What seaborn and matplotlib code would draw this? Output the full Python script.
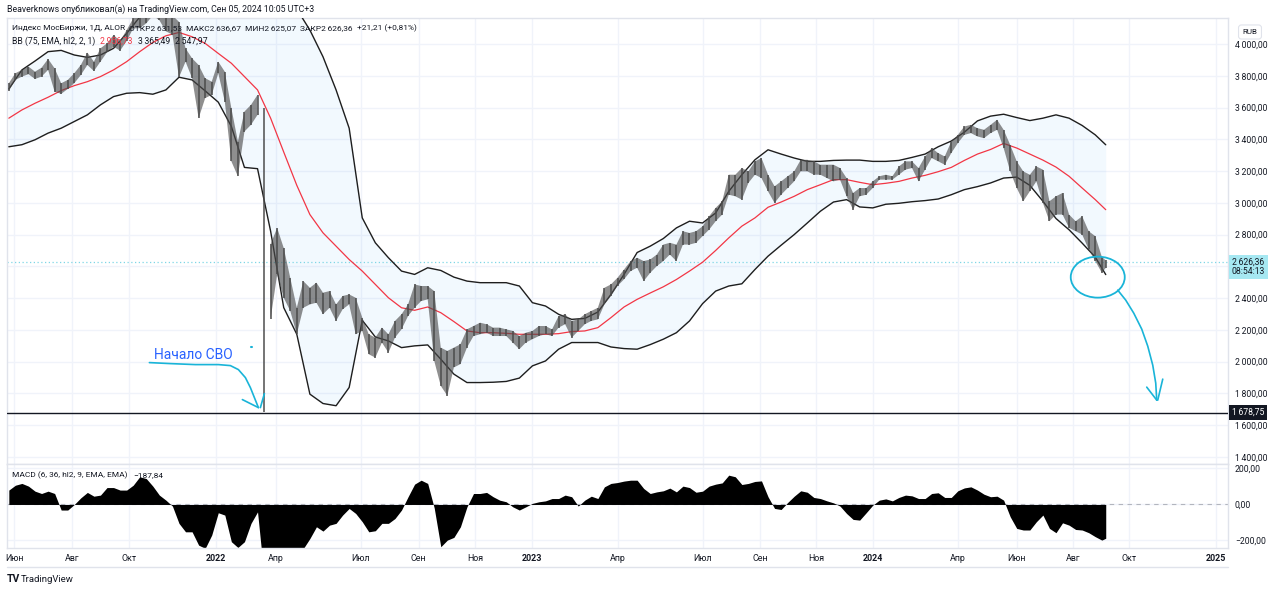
import numpy as np
import pandas as pd
import matplotlib
matplotlib.use("Agg")
import matplotlib.pyplot as plt
import seaborn as sns
from matplotlib.transforms import IdentityTransform, blended_transform_factory
from matplotlib.lines import Line2D
from matplotlib.patches import Ellipse

sns.set_theme(style="white")
plt.rcParams["font.family"] = ["Roboto", "DejaVu Sans"]

# ---------------- trading calendar (exchange closed 28.02 - 23.03.2022) ----------------
cal = pd.bdate_range("2021-05-26", "2025-02-28")
cal = cal[(cal < "2022-02-28") | (cal > "2022-03-23")]
last_date = pd.Timestamp("2024-09-05")

# weekly samples (every 5 sessions) + last session
price_dates = list(cal[0:836:5]) + [last_date]
price_high = [3753, 3816, 3837, 3858, 3826, 3851, 3906, 3847, 3753, 3774,
              3816, 3868, 3946, 3889, 3973, 4004, 4057, 4019, 4088, 4161,
              4180, 4240, 4280, 4270, 4200, 4180, 4140, 3973, 3910, 3868,
              3785, 3763, 3889, 3826, 3596, 3386, 3575, 3617, 3680, 3600,
              2740, 2842, 2716, 2528, 2339, 2507, 2465, 2497, 2434, 2444,
              2360, 2413, 2423, 2402, 2277, 2172, 2151, 2214, 2172, 2256,
              2298, 2360, 2486, 2476, 2476, 2444, 2088, 2067, 2088, 2109,
              2203, 2224, 2245, 2235, 2214, 2214, 2203, 2193, 2161, 2182,
              2193, 2224, 2224, 2203, 2287, 2298, 2256, 2266, 2298, 2319,
              2339, 2465, 2486, 2528, 2580, 2633, 2654, 2633, 2643, 2674,
              2737, 2748, 2737, 2821, 2810, 2821, 2852, 2915, 2968, 3010,
              3177, 3177, 3219, 3198, 3261, 3282, 3177, 3104, 3135, 3167,
              3198, 3271, 3271, 3261, 3240, 3240, 3240, 3219, 3156, 3062,
              3093, 3093, 3135, 3167, 3177, 3167, 3229, 3261, 3261, 3219,
              3292, 3345, 3313, 3292, 3386, 3428, 3481, 3491, 3470, 3460,
              3491, 3523, 3460, 3365, 3261, 3198, 3177, 3229, 3209, 3010,
              3041, 3062, 2926, 2884, 2915, 2821, 2790, 2660, 2637]
price_low = [3705, 3774, 3795, 3810, 3780, 3795, 3837, 3700, 3686, 3717,
             3753, 3805, 3868, 3830, 3889, 3948, 3983, 3958, 4019, 4098,
             4100, 4130, 4180, 4150, 4080, 4060, 3790, 3889, 3785, 3533,
             3659, 3680, 3816, 3638, 3261, 3167, 3449, 3491, 3554, 1681,
             2270, 2549, 2402, 2319, 2172, 2339, 2360, 2371, 2298, 2339,
             2256, 2329, 2360, 2172, 2193, 2046, 2025, 2120, 2057, 2151,
             2203, 2287, 2339, 2381, 2392, 2004, 1847, 1785, 1963, 1984,
             2088, 2161, 2172, 2182, 2161, 2161, 2161, 2120, 2078, 2120,
             2141, 2161, 2172, 2161, 2214, 2235, 2151, 2193, 2235, 2256,
             2266, 2360, 2413, 2476, 2518, 2570, 2591, 2507, 2559, 2601,
             2633, 2674, 2633, 2737, 2737, 2748, 2790, 2831, 2884, 2926,
             3051, 3041, 3020, 3125, 3177, 3156, 3072, 2999, 3051, 3093,
             3135, 3198, 3198, 3177, 3177, 3156, 3135, 3146, 3041, 2957,
             3041, 3051, 3093, 3146, 3146, 3146, 3177, 3209, 3219, 3135,
             3209, 3282, 3261, 3240, 3313, 3376, 3428, 3439, 3418, 3407,
             3439, 3460, 3345, 3198, 3093, 3010, 3072, 3135, 2999, 2884,
             2926, 2926, 2842, 2821, 2800, 2706, 2633, 2560, 2590]
last_close = 2626.36
svo_low = 1678.75
svo_date = pd.Timestamp("2022-02-24")

# Bollinger bands (75, EMA, hl2, 2) every 10 sessions + last session
band_dates = list(cal[0:831:10]) + [last_date]
bb_upper = [3717, 3837, 3893, 3952, 3960, 3931, 3916, 3931, 3973, 4067,
            4170, 4230, 4280, 4320, 4340, 4350, 4350, 4360, 4380, 4400,
            4500, 4450, 4220, 4088, 3920, 3711, 3470, 2905, 2748, 2654,
            2570, 2549, 2591, 2574, 2532, 2507, 2497, 2497, 2497, 2476,
            2371, 2350, 2298, 2266, 2272, 2312, 2423, 2549, 2687, 2727,
            2775, 2842, 2884, 2873, 2936, 3072, 3177, 3271, 3334, 3307,
            3282, 3261, 3261, 3267, 3269, 3269, 3261, 3261, 3267, 3286,
            3307, 3353, 3389, 3445, 3516, 3546, 3558, 3537, 3518, 3533,
            3554, 3533, 3487, 3428, 3365.49]
bb_mid = [3533, 3585, 3627, 3665, 3707, 3738, 3763, 3795, 3837, 3889,
          3952, 4010, 4052, 4073, 4046, 4004, 3941, 3879, 3795, 3711,
          3533, 3320, 3110, 2926, 2811, 2727, 2643, 2570, 2486, 2402,
          2339, 2323, 2344, 2308, 2252, 2193, 2182, 2182, 2178, 2172,
          2172, 2172, 2176, 2189, 2193, 2214, 2277, 2344, 2392, 2432,
          2471, 2517, 2570, 2626, 2700, 2779, 2853, 2905, 2972, 3005,
          3041, 3083, 3114, 3146, 3146, 3129, 3114, 3123, 3135, 3156,
          3173, 3196, 3223, 3267, 3307, 3336, 3374, 3345, 3307, 3269,
          3225, 3167, 3093, 3020, 2956.73]
bb_lower = [3353, 3366, 3397, 3439, 3470, 3512, 3554, 3617, 3669, 3690,
            3694, 3684, 3711, 3791, 3774, 3705, 3634, 3481, 3223, 3215,
            2821, 2340, 2172, 1795, 1736, 1722, 1837, 2260, 2155, 2130,
            2088, 2099, 2105, 2015, 1921, 1868, 1868, 1870, 1875, 1896,
            1973, 2004, 2078, 2120, 2120, 2120, 2092, 2082, 2078, 2107,
            2141, 2182, 2256, 2365, 2444, 2476, 2490, 2580, 2664, 2733,
            2800, 2873, 2947, 3005, 3020, 2974, 2968, 2991, 2997, 3007,
            3014, 3024, 3051, 3083, 3102, 3125, 3156, 3162, 3110, 3010,
            2901, 2830, 2746, 2658, 2547.97]

# MACD (6, 36, hl2, 9) line, weekly + last
macd_vals = [80, 107, 117, 102, 74, 61, 74, 61, -31, -31,
             0, 37, 67, 46, 52, 94, 94, 80, 80, 107,
             154, 144, 102, 52, 24, -9, -105, -152, -152, -226,
             -244, -170, -46, -59, -207, -239, -207, -105, -41, -400,
             -350, -330, -300, -280, -260, -245, -189, -124, -148, -115,
             -105, -59, -22, -50, -96, -152, -146, -105, -105, -78,
             -31, 43, 113, 135, 117, -20, -235, -198, -183, -124,
             -13, 61, 61, 67, 43, 24, 15, -13, -31, -13,
             6, 15, 20, 33, 33, 52, 43, -9, 24, 46,
             33, 98, 117, 122, 130, 135, 135, 89, 61, 70,
             76, 91, 70, 102, 94, 68, 74, 102, 113, 120,
             163, 154, 111, 117, 128, 131, 43, -22, -28, 11,
             46, 76, 68, 39, 33, 20, 9, -9, -50, -83,
             -87, -46, -4, 24, 31, 20, 39, 52, 48, 33,
             33, 61, 65, 39, 39, 76, 92, 98, 80, 57,
             43, 46, 24, -68, -133, -142, -142, -96, -59, -133,
             -157, -102, -115, -139, -142, -157, -179, -198, -187.84]

tick_dates = ["2021-06-01", "2021-08-02", "2021-10-01", "2022-01-03", "2022-04-01",
              "2022-07-01", "2022-09-01", "2022-11-01", "2023-01-02", "2023-04-03",
              "2023-07-03", "2023-09-01", "2023-11-01", "2024-01-01", "2024-04-01",
              "2024-06-03", "2024-08-01", "2024-10-01", "2025-01-01"]
tick_labels = ["Июн", "Авг", "Окт", "2022", "Апр", "Июл", "Сен", "Ноя", "2023", "Апр",
               "Июл", "Сен", "Ноя", "2024", "Апр", "Июн", "Авг", "Окт", "2025"]
price_ticks = list(range(1400, 4001, 200))
macd_ticks = [-200, 0, 200]

legend_main = ["Индекс МосБиржи, 1Д, ALOR", "ОТКР2\u2009631,53", "МАКС2\u2009636,67",
               "МИН2\u2009625,07", "ЗАКР2\u2009626,36", "+21,21 (+0,81%)"]


def pos(dates):
    return cal.searchsorted(pd.DatetimeIndex(dates))


def fmt(v):
    s = f"{abs(v):,.2f}".replace(",", "\u2009").replace(".", ",")
    return ("\u2212" if v < 0 else "") + s


TXT = "#131722"
GRID = "#f0f3fa"
BORDER = "#e0e3eb"
CYAN = "#19b4d8"
BAR = "#4a4a4a"
FS = 6.2

W, H = 1280, 592
fig = plt.figure(figsize=(W / 100, H / 100), dpi=100)
fig.patch.set_facecolor("white")
renderer = fig.canvas.get_renderer()


def fb(l, t, r, b):
    return [l / W, 1 - b / H, (r - l) / W, (b - t) / H]


ax = fig.add_axes(fb(7, 18, 1228, 464))
axm = fig.add_axes(fb(7, 464, 1228, 548), sharex=ax)

px = pos(price_dates)
bx = pos(band_dates)
tx = pos(tick_dates)

# ---------------- main price panel ----------------
ax.fill_between(bx, bb_lower, bb_upper, color="#2196f3", alpha=0.055, lw=0, zorder=1)
sns.lineplot(x=bx, y=bb_upper, ax=ax, color="#1e1e1e", linewidth=1.0, zorder=3)
sns.lineplot(x=bx, y=bb_lower, ax=ax, color="#1e1e1e", linewidth=1.0, zorder=3)
sns.lineplot(x=bx, y=bb_mid, ax=ax, color="#f23645", linewidth=0.9, zorder=3)

# weekly price ranges: a ribbon plus bars (ribbon broken at the crash week)
rng = np.array(price_high) - np.array(price_low)
ribbon_ok = rng < 800
ax.fill_between(px, price_low, price_high, where=ribbon_ok, color=BAR, alpha=0.62,
                lw=0, zorder=3.5)
ax.vlines(px, price_low, price_high, color=BAR, lw=1.2, alpha=0.9, zorder=4)

ax.axhline(svo_low, color=TXT, lw=1.0, zorder=5)
ax.axhline(last_close, color="#7fd6e6", lw=0.9, ls=(0, (1, 2)), zorder=2)

ax.set_xlim(-1.4, 931.4)
ax.set_ylim(1355, 4164)
ax.set_xticks(tx)
ax.yaxis.tick_right()
ax.set_yticks(price_ticks)
# the 2 600 label is hidden behind the live-price tag, as on the reference
ax.set_yticklabels(["" if v == 2600 else fmt(v) for v in price_ticks])
ax.tick_params(axis="y", length=0, pad=5, labelsize=FS, labelcolor=TXT)
ax.tick_params(axis="x", length=0, labelbottom=False)
ax.grid(True, color=GRID, lw=1)
ax.set_axisbelow(True)
ax.set_xlabel("")
ax.set_ylabel("")
for s in ax.spines.values():
    s.set_color(BORDER)
    s.set_linewidth(1)

# ---------------- MACD panel ----------------
axm.axhline(0, color="#b2b5be", lw=0.8, ls=(0, (4, 4)), zorder=1)
axm.fill_between(px, 0, macd_vals, color="black", lw=0, zorder=2)
axm.set_ylim(-242, 225)
axm.yaxis.tick_right()
axm.set_yticks(macd_ticks)
axm.set_yticklabels([fmt(v) for v in macd_ticks])
axm.tick_params(axis="y", length=0, pad=5, labelsize=FS, labelcolor=TXT)
axm.set_xticks(tx)
axm.set_xticklabels(tick_labels)
axm.tick_params(axis="x", length=0, pad=4, labelsize=6.4, labelcolor=TXT)
for lab in axm.get_xticklabels():
    if lab.get_text().isdigit():
        lab.set_fontweight("bold")
axm.grid(True, color=GRID, lw=1)
axm.set_axisbelow(True)
for s in axm.spines.values():
    s.set_color(BORDER)
    s.set_linewidth(1)

# ---------------- price tags on the scale ----------------
btr = blended_transform_factory(ax.transAxes, ax.transData)
ax.annotate(fmt(last_close) + "\n08:54:13", xy=(1.0, last_close), xycoords=btr,
            xytext=(4, -5), textcoords="offset pixels", ha="left", va="center",
            fontsize=FS, color=TXT, linespacing=1.05, annotation_clip=False,
            bbox=dict(boxstyle="square,pad=0.35", fc="#a6e8f2", ec="none"))
ax.annotate(fmt(svo_low), xy=(1.0, svo_low), xycoords=btr,
            xytext=(4, 0), textcoords="offset pixels", ha="left", va="center",
            fontsize=FS, color="white", annotation_clip=False,
            bbox=dict(boxstyle="square,pad=0.35", fc=TXT, ec="none"))
fig.text(1250 / W, 1 - 32 / H, "RUB", ha="center", va="center", fontsize=5.8, color=TXT,
         bbox=dict(boxstyle="round,pad=0.5,rounding_size=0.35", fc="white", ec=BORDER, lw=0.8))


# ---------------- header texts ----------------
def seq_text(x, y, parts, gap=6, fs=FS):
    """Place text pieces one after another (x, y in picture pixels)."""
    for s, c in parts:
        t = fig.text(x / W, 1 - y / H, s, va="center", ha="left", fontsize=fs, color=c)
        x += t.get_window_extent(renderer).width + gap


seq_text(7, 9, [("Beaverknows опубликовал(а) на TradingView.com, Сен 05, 2024 10:05 UTC+3", TXT)],
         fs=6.3)
seq_text(12, 28, [(s, TXT) for s in legend_main], gap=4, fs=6.0)
seq_text(12, 41, [("BB (75, EMA, hl2, 2, 1)", TXT), (fmt(bb_mid[-1]), "#f23645"),
                  (fmt(bb_upper[-1]), TXT), (fmt(bb_lower[-1]), TXT)], gap=5, fs=6.2)
seq_text(12, 475, [("MACD (6, 36, hl2, 9, EMA, EMA)", TXT), (fmt(macd_vals[-1]), TXT)],
         gap=6, fs=6.0)
fig.text(7 / W, 1 - 579 / H, "TV", va="center", ha="left", fontsize=7.5, color=TXT,
         fontweight="bold")
fig.text(21 / W, 1 - 579 / H, "TradingView", va="center", ha="left", fontsize=6.8, color=TXT)
fig.add_artist(Line2D([7 / W, 1228 / W], [1 - 567 / H, 1 - 567 / H],
                      transform=fig.transFigure, color=BORDER, lw=1))


# ---------------- hand-drawn annotations (anchored to data points) ----------------
def draw_rel(anchor_xy, ref_px, pts, **kw):
    a = ax.transData.transform(anchor_xy)
    xs = [a[0] + (p[0] - ref_px[0]) for p in pts]
    ys = [a[1] - (p[1] - ref_px[1]) for p in pts]
    fig.add_artist(Line2D(xs, ys, transform=IdentityTransform(), **kw))
    return a


svo_anchor = (pos([svo_date])[0], svo_low)
ref1 = (265, 413)
kw = dict(color=CYAN, lw=1.2, solid_capstyle="round", solid_joinstyle="round")
draw_rel(svo_anchor, ref1, [(149, 363), (170, 364), (195, 365), (218, 365), (230, 366),
                            (238, 370), (245, 378), (250, 388), (254, 398), (258, 408)], **kw)
draw_rel(svo_anchor, ref1, [(242, 400), (258, 408)], **kw)
draw_rel(svo_anchor, ref1, [(264, 394), (260, 408)], **kw)
draw_rel(svo_anchor, ref1, [(251, 347), (251.6, 347)], color=CYAN, lw=1.5)
a1 = ax.transData.transform(svo_anchor)
fig.text((a1[0] + 154 - ref1[0]) / W, (a1[1] - (355 - ref1[1])) / H, "Начало СВО",
         fontsize=10, color="#2962ff", ha="left", va="center")

last_anchor = (pos([last_date])[0], last_close)
ref2 = (1101, 263)
a2 = ax.transData.transform(last_anchor)
fig.add_artist(Ellipse((a2[0] + 1093 - ref2[0], a2[1] - (278 - ref2[1])), 54, 41,
                       transform=IdentityTransform(), fill=False, ec=CYAN, lw=1.3))
draw_rel(last_anchor, ref2, [(1113, 291), (1121, 301), (1129, 314), (1137, 330), (1143, 347),
                             (1148, 366), (1151, 384), (1152, 401)], **kw)
draw_rel(last_anchor, ref2, [(1142, 388), (1152, 401)], **kw)
draw_rel(last_anchor, ref2, [(1158, 380), (1153, 401)], **kw)

fig.savefig("out.png", dpi=100, facecolor="white")
